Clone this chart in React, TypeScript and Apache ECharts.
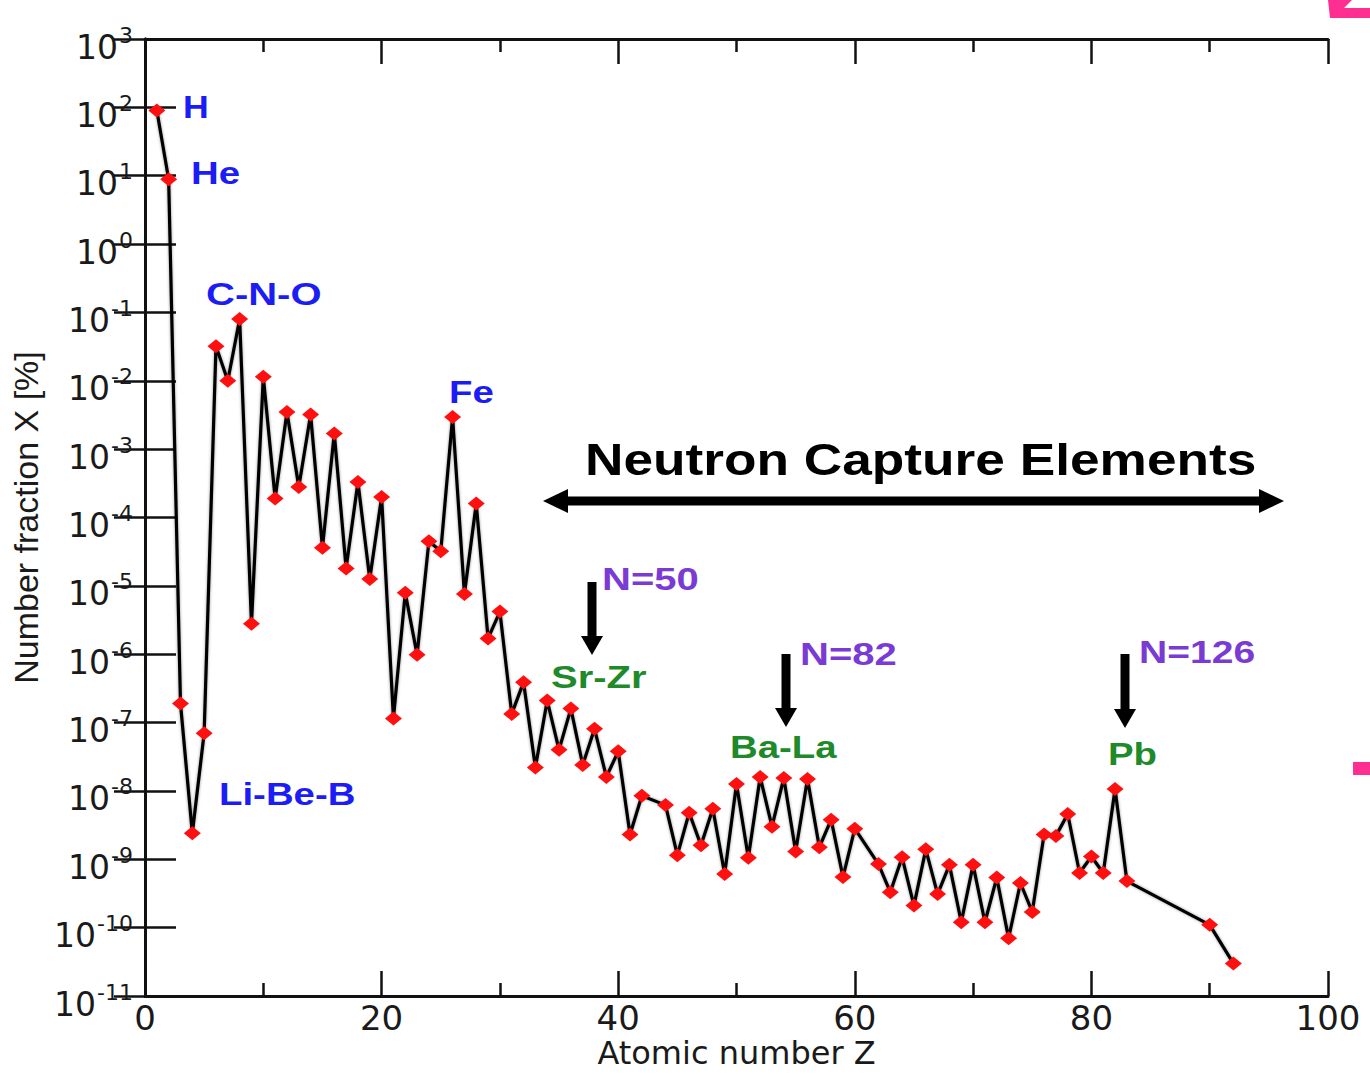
import React, { useEffect, useRef } from "react";
import * as echarts from "echarts";

// Atomic number Z of each plotted element (Tc, Pm, Po–Ac, Pa are absent)
const elementZ = [
  1, 2, 3, 4, 5, 6, 7, 8, 9, 10, 11, 12, 13, 14, 15, 16, 17, 18, 19, 20,
  21, 22, 23, 24, 25, 26, 27, 28, 29, 30, 31, 32, 33, 34, 35, 36, 37, 38, 39, 40,
  41, 42, 44, 45, 46, 47, 48, 49, 50, 51, 52, 53, 54, 55, 56, 57, 58, 59, 60,
  62, 63, 64, 65, 66, 67, 68, 69, 70, 71, 72, 73, 74, 75, 76, 77, 78, 79, 80,
  81, 82, 83, 90, 92,
];

// Number fraction X [%]
const numberFraction = [
  90, 8.9, 1.9e-7, 2.4e-9, 7e-8, 3.2e-2, 1.0e-2, 8e-2, 2.8e-6, 1.15e-2,
  1.9e-4, 3.5e-3, 2.8e-4, 3.2e-3, 3.6e-5, 1.7e-3, 1.8e-5, 3.3e-4, 1.26e-5, 2e-4,
  1.15e-7, 7.9e-6, 9.8e-7, 4.5e-5, 3.2e-5, 2.95e-3, 7.6e-6, 1.6e-4, 1.7e-6, 4.2e-6,
  1.34e-7, 3.9e-7, 2.2e-8, 2.1e-7, 4e-8, 1.6e-7, 2.4e-8, 8.1e-8, 1.6e-8, 3.8e-8,
  2.3e-9, 8.5e-9, 6.2e-9, 1.15e-9, 4.8e-9, 1.6e-9, 5.5e-9, 6.1e-10, 1.26e-8, 1.05e-9,
  1.6e-8, 3e-9, 1.55e-8, 1.3e-9, 1.5e-8, 1.5e-9, 3.8e-9, 5.5e-10, 2.8e-9,
  8.5e-10, 3.3e-10, 1.07e-9, 2.1e-10, 1.4e-9, 3.1e-10, 8.3e-10, 1.2e-10, 8.3e-10, 1.2e-10,
  5.4e-10, 7e-11, 4.5e-10, 1.7e-10, 2.3e-9, 2.2e-9, 4.6e-9, 6.3e-10, 1.1e-9,
  6.3e-10, 1.07e-8, 4.8e-10, 1.1e-10, 3e-11,
];

const xTickValues = [0, 20, 40, 60, 80, 100];
const yDecadeExponents = [-11, -10, -9, -8, -7, -6, -5, -4, -3, -2, -1, 0, 1, 2, 3];

const X_TITLE = "Atomic number Z";
const Y_TITLE = "Number fraction X [%]";

const AXIS_COLOR = "#111";
const LABEL_FONT = "'DejaVu Sans', sans-serif";
const ANNOT_FONT = "'Liberation Sans', Arial, sans-serif";
const BLUE = "#1c1cf5";
const PURPLE = "#7a3ad4";
const GREEN = "#1f8a2a";

function annot(text: string, x: number, y: number, color: string, size = 32, sx = 1.2) {
  return {
    type: "text",
    x,
    y,
    scaleX: sx,
    style: {
      text,
      fill: color,
      font: `bold ${size}px ${ANNOT_FONT}`,
      textVerticalAlign: "middle",
      textAlign: "left",
    },
    z: 10,
  };
}

function downArrow(cx: number, top: number, tip: number) {
  return [
    { type: "rect", shape: { x: cx - 4.5, y: top, width: 9, height: tip - top - 14 }, style: { fill: "#000" }, z: 10 },
    {
      type: "polygon",
      shape: { points: [[cx - 11, tip - 19], [cx + 11, tip - 19], [cx, tip]] },
      style: { fill: "#000" },
      z: 10,
    },
  ];
}

export default function App() {
  const ref = useRef<HTMLDivElement>(null);

  useEffect(() => {
    if (!ref.current) return;
    const chart = echarts.init(ref.current, undefined, { renderer: "svg" });

    const seriesData = elementZ.map((z, i) => [z, numberFraction[i]]);
    const yMin = Math.pow(10, yDecadeExponents[0]);
    const yMax = Math.pow(10, yDecadeExponents[yDecadeExponents.length - 1]);

    const xCommon = {
      type: "value",
      min: xTickValues[0],
      max: xTickValues[xTickValues.length - 1],
      interval: xTickValues[1] - xTickValues[0],
      axisLine: { show: true, onZero: false, lineStyle: { color: AXIS_COLOR, width: 3 } },
      axisTick: { show: true, inside: true, length: 25, lineStyle: { color: AXIS_COLOR, width: 2.5 } },
      minorTick: { show: true, splitNumber: 2, length: 13, lineStyle: { color: AXIS_COLOR, width: 2.5 } },
      splitLine: { show: false },
      minorSplitLine: { show: false },
    };

    const yCommon = {
      type: "log",
      logBase: 10,
      min: yMin,
      max: yMax,
      interval: 1,
      splitNumber: yDecadeExponents.length - 1,
      axisLine: { show: true, lineStyle: { color: AXIS_COLOR, width: 3 } },
      axisTick: { show: true, inside: true, length: 31, lineStyle: { color: AXIS_COLOR, width: 2.5 } },
      splitLine: { show: false },
    };

    chart.setOption({
      animation: false,
      backgroundColor: "#fff",
      grid: {
        left: 145,
        top: 39,
        width: 1183,
        height: 957,
        containLabel: false,
        outerBoundsMode: "none",
      },
      xAxis: [
        {
          ...xCommon,
          position: "bottom",
          axisLabel: {
            show: true,
            fontSize: 34,
            lineHeight: 32,
            fontFamily: LABEL_FONT,
            color: "#1a1a1a",
            margin: 6,
          },
          name: X_TITLE,
          nameLocation: "middle",
          nameGap: 42,
          nameMoveOverlap: false,
          nameTextStyle: {
            fontSize: 32,
            fontFamily: LABEL_FONT,
            color: "#1a1a1a",
            lineHeight: 30,
            verticalAlign: "top",
          },
        },
        {
          ...xCommon,
          position: "top",
          axisLabel: { show: false },
        },
      ],
      yAxis: [
        {
          ...yCommon,
          position: "left",
          axisLabel: {
            show: true,
            margin: 12,
            formatter: (v: number) => {
              const e = Math.round(Math.log10(v));
              return `{b|10}{e|${e}}`;
            },
            rich: {
              b: { fontSize: 33, fontFamily: LABEL_FONT, color: "#1a1a1a", padding: [16, 0, 0, 0] },
              e: { fontSize: 22, fontFamily: LABEL_FONT, color: "#1a1a1a", padding: [0, 0, 8, 1] },
            },
          },
          name: Y_TITLE,
          nameLocation: "middle",
          nameRotate: 90,
          nameGap: 102,
          nameTextStyle: { fontSize: 34, fontFamily: ANNOT_FONT, color: "#1a1a1a" },
        },
        {
          ...yCommon,
          position: "right",
          axisLabel: { show: false },
        },
      ],
      series: [
        {
          type: "line",
          xAxisIndex: 0,
          yAxisIndex: 0,
          data: seriesData,
          symbol: "diamond",
          symbolSize: [17, 14],
          showAllSymbol: true,
          itemStyle: { color: "#ff1010", borderWidth: 0 },
          lineStyle: { color: "#000", width: 3.2, shadowColor: "rgba(0,0,0,0.4)", shadowBlur: 3 },
          z: 3,
        },
      ],
      graphic: [
        annot("H", 183, 107, BLUE, 31, 1.15),
        annot("He", 191, 173, BLUE),
        annot("C-N-O", 206, 294, BLUE, 32, 1.25),
        annot("Fe", 449, 392, BLUE),
        annot("Li-Be-B", 219, 794, BLUE, 32, 1.2),
        annot("Neutron Capture Elements", 585, 460, "#000", 44, 1.21),
        {
          type: "rect",
          shape: { x: 560, y: 496.5, width: 706, height: 9 },
          style: { fill: "#000" },
          z: 10,
        },
        {
          type: "polygon",
          shape: { points: [[543, 501], [568, 489], [568, 513]] },
          style: { fill: "#000" },
          z: 10,
        },
        {
          type: "polygon",
          shape: { points: [[1284, 501], [1259, 489], [1259, 513]] },
          style: { fill: "#000" },
          z: 10,
        },
        annot("N=50", 602, 579, PURPLE, 32, 1.25),
        ...downArrow(592, 582, 655),
        annot("Sr-Zr", 551, 677, GREEN, 32, 1.25),
        annot("N=82", 800, 654, PURPLE, 32, 1.25),
        ...downArrow(786, 654, 727),
        annot("Ba-La", 730, 747, GREEN, 32, 1.2),
        annot("N=126", 1139, 652, PURPLE, 32, 1.22),
        ...downArrow(1125, 654, 728),
        annot("Pb", 1108, 754, GREEN, 32, 1.2),
        {
          type: "polygon",
          shape: { points: [[1328, 0], [1352, 0], [1344, 8], [1370, 8], [1370, 18], [1330, 18]] },
          style: { fill: "#ff2f92" },
          z: 10,
        },
        {
          type: "rect",
          shape: { x: 1353, y: 762, width: 17, height: 13 },
          style: { fill: "#ff2f92" },
          z: 10,
        },
      ],
    });

    return () => chart.dispose();
  }, []);

  return (
    <div
      ref={ref}
      style={{ position: "absolute", left: 0, top: 0, width: 1370, height: 1074, background: "#fff" }}
    />
  );
}
